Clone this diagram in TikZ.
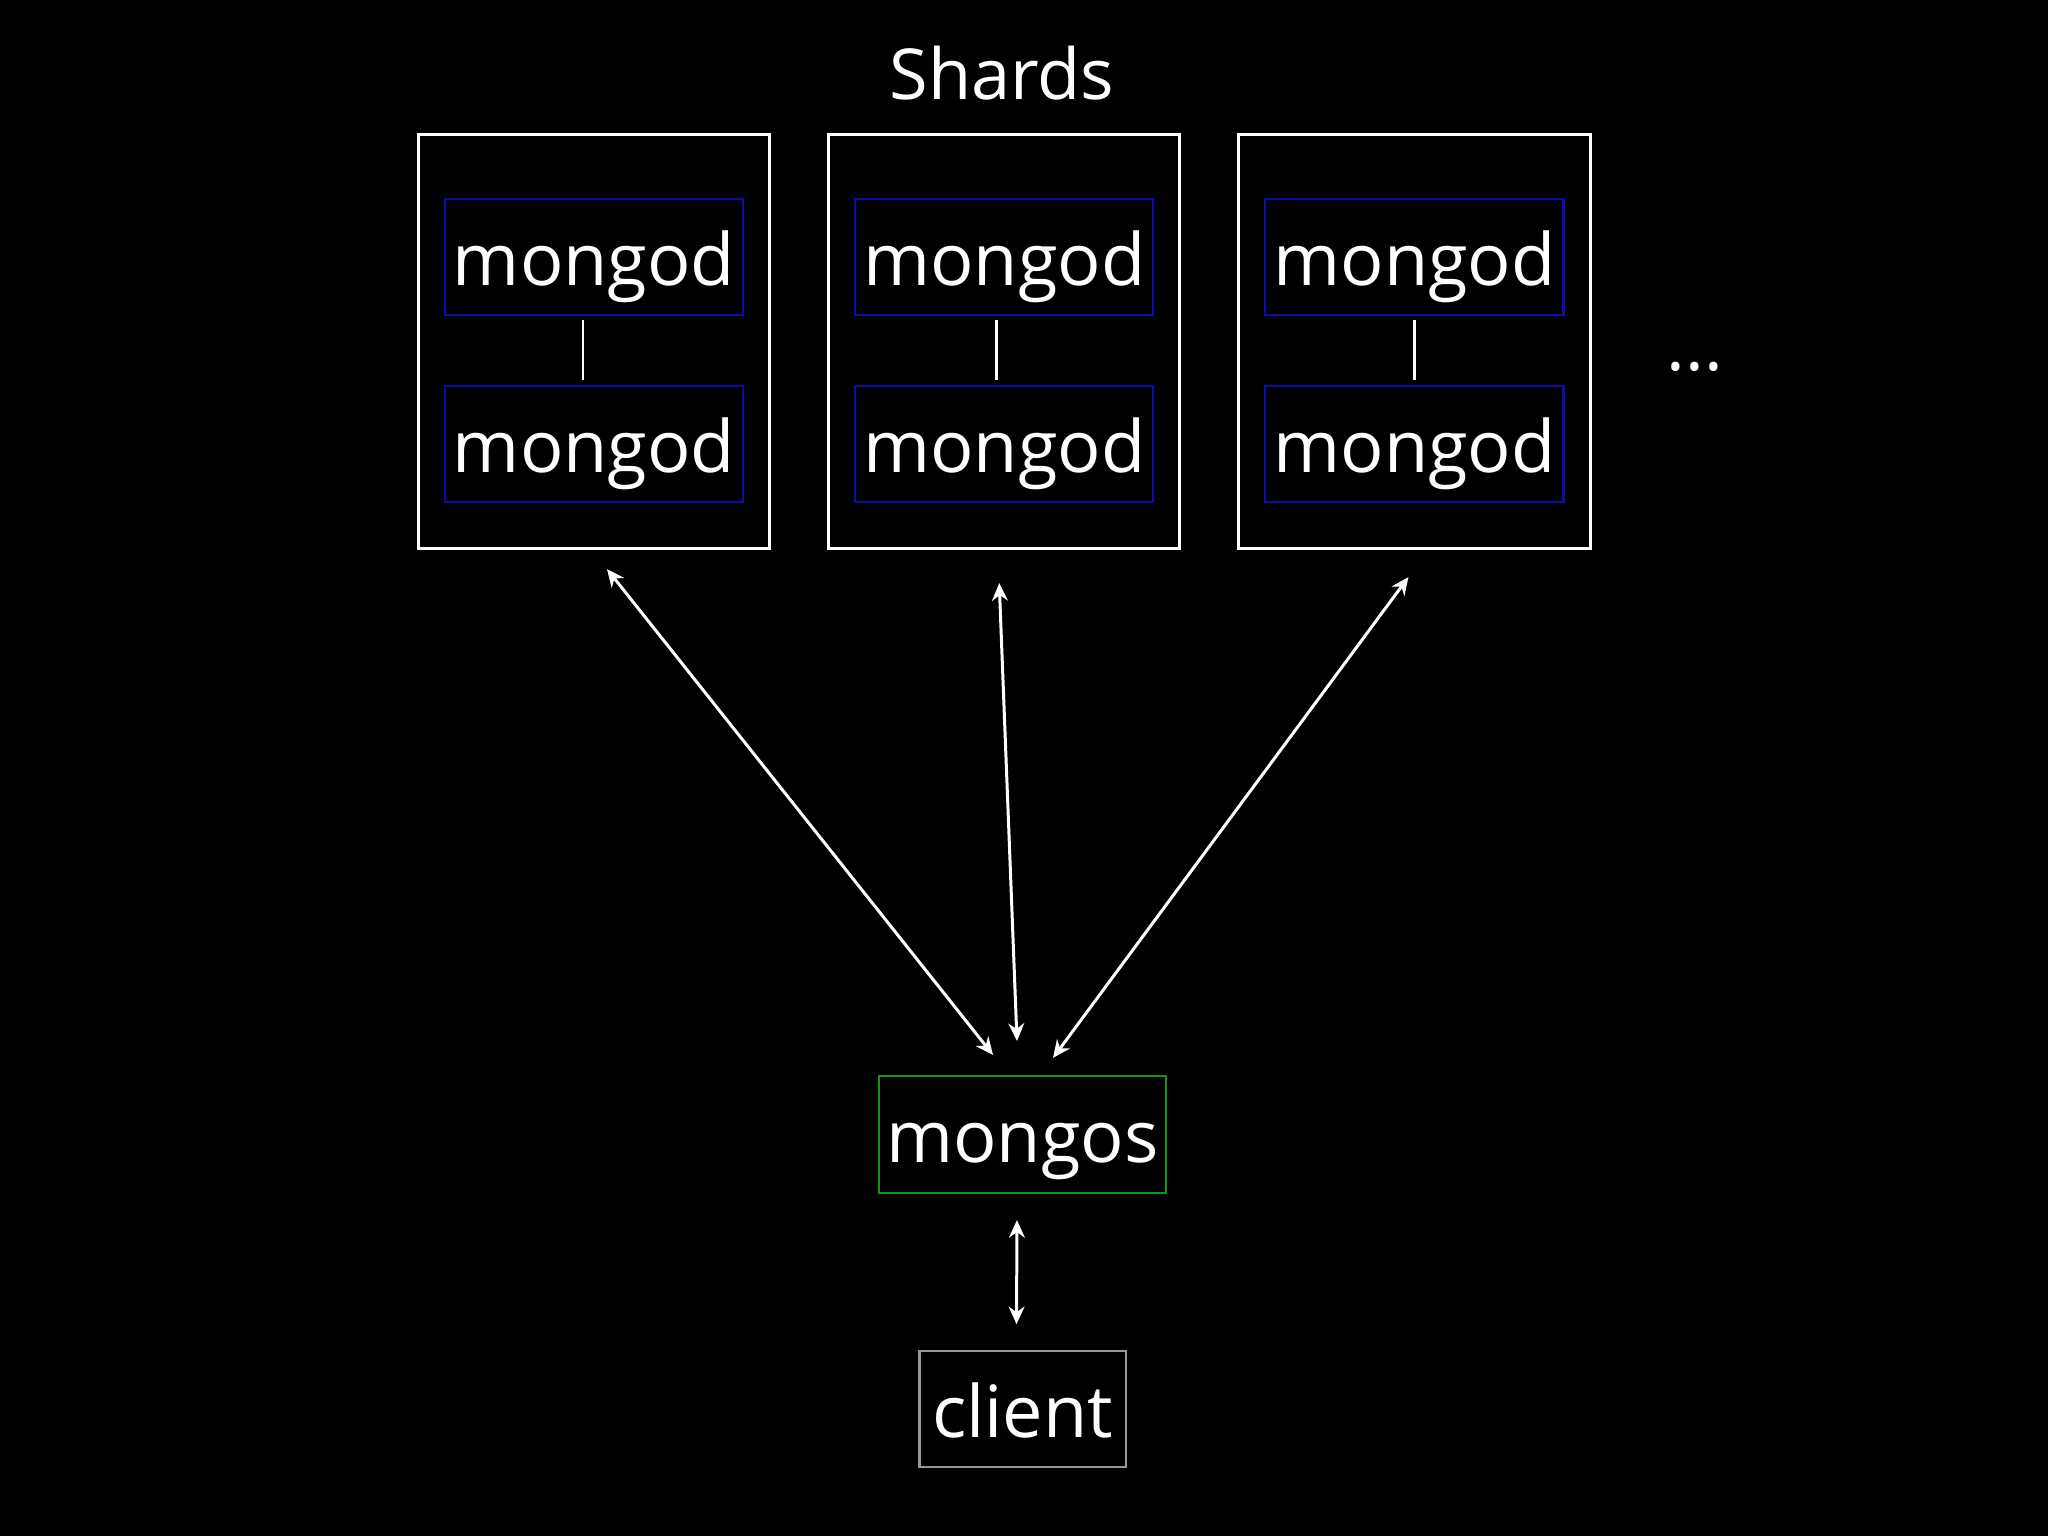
\documentclass[tikz,border=0pt]{standalone}
\usepackage{fontspec}
\setmainfont{Open Sans}
\usetikzlibrary{arrows.meta,positioning,calc}
\definecolor{shardblue}{RGB}{12,12,170}
\definecolor{routergreen}{RGB}{20,150,20}
\definecolor{clientgrey}{RGB}{150,150,150}
\tikzset{
  boxtext/.style={inner sep=0pt,text=white,font=\fontsize{20.5}{24}\selectfont,
    text height=0.75cm,text depth=0.19cm},
  shardbox/.style={draw=white,line width=0.85pt,minimum width=3.51cm,
    minimum height=4.14cm,inner sep=0pt},
  mongodbox/.style={boxtext,draw=shardblue,line width=0.6pt,minimum width=2.98cm,
    minimum height=1.16cm},
  routerbox/.style={boxtext,draw=routergreen,line width=0.6pt,minimum width=2.87cm,
    minimum height=1.17cm},
  clientbox/.style={boxtext,draw=clientgrey,line width=0.6pt,minimum width=2.06cm,
    minimum height=1.16cm},
  titlelabel/.style={text=white,font=\fontsize{20}{24}\selectfont},
  linkarrow/.style={{Stealth[length=5pt,width=4.5pt]}-{Stealth[length=5pt,width=4.5pt]},
    draw=white,line width=0.85pt},
  replline/.style={draw=white,line width=0.8pt}
}

\begin{document}
\begin{tikzpicture}[x=0.01cm,y=-0.01cm]
  \fill[black] (0,0) rectangle (2048,1536);
  \node[titlelabel,anchor=base] (title) at (1002,99) {Shards};
  % shards
  \node[shardbox] (shard1) at (594,341.5) {};
  \node[shardbox,right=0.56cm of shard1] (shard2) {};
  \node[shardbox,right=0.56cm of shard2] (shard3) {};
  \foreach \s/\dx in {1/-11,2/-8,3/0}{
    \node[mongodbox] (primary\s) at ($(shard\s.center)+(0,-84.5)$) {mongod};
    \node[mongodbox,below=0.69cm of primary\s] (secondary\s) {mongod};
    \draw[replline] ($(primary\s.south)+(\dx,4)$) -- ($(secondary\s.north)+(\dx,-5)$);
  }
  \node[titlelabel,anchor=base] (more) at (1695,370) {...};
  % router and client
  \node[routerbox] (mongos) at (1022.5,1134.5) {mongos};
  \node[clientbox,below=1.56cm of mongos] (client) {client};
  \draw[linkarrow] ($(shard1.south)+(13,19)$) -- ($(mongos.north)+(-29.5,-20)$);
  \draw[linkarrow] ($(shard2.south)+(-5,33)$) -- ($(mongos.north)+(-5.5,-34)$);
  \draw[linkarrow] ($(shard3.south)+(-6,27)$) -- ($(mongos.north)+(30.5,-17)$);
  \draw[linkarrow] ($(mongos.south)+(-5.5,26)$) -- ($(client.north)+(-6,-26)$);
\end{tikzpicture}
\end{document}
